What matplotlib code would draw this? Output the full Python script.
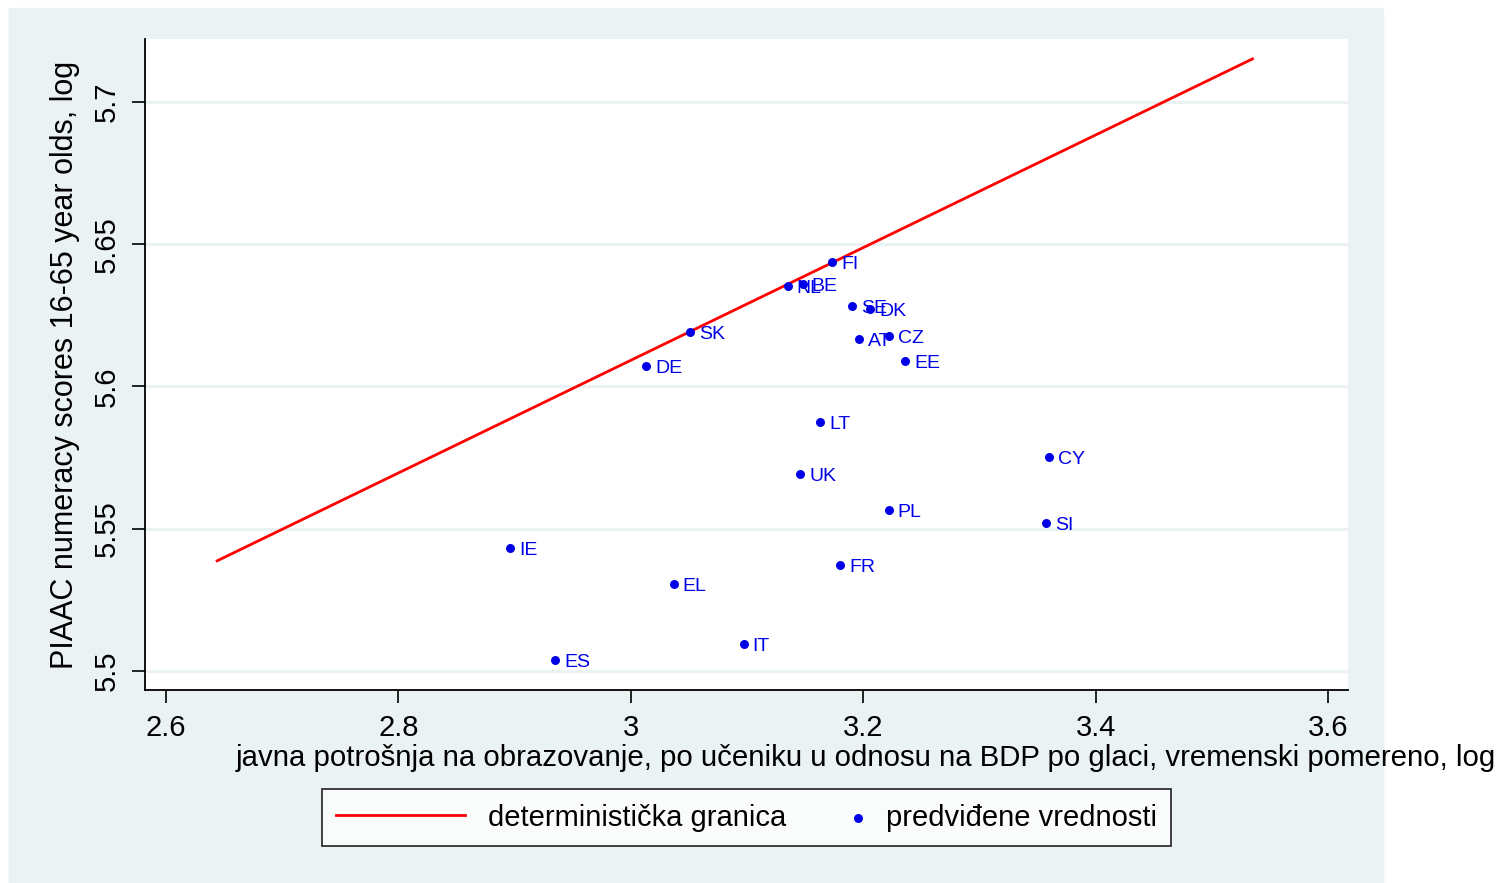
import matplotlib
matplotlib.use("Agg")
import matplotlib.pyplot as plt
from matplotlib.patches import Rectangle
from matplotlib.collections import PathCollection
from matplotlib.legend_handler import HandlerPathCollection

plt.rcParams["font.family"] = ["Liberation Sans", "DejaVu Sans"]

BG = "#EAF2F3"
BLUE = "#0000E6"
RED = "#FF0000"

# podaci (procenjeno sa slike)
countries = ["FI", "NL", "BE", "SE", "DK", "AT", "CZ", "EE", "SK", "DE",
             "LT", "UK", "CY", "PL", "SI", "IE", "FR", "EL", "IT", "ES"]
x_vals = [3.173, 3.135, 3.148, 3.190, 3.206, 3.196, 3.222, 3.236, 3.051, 3.013,
          3.163, 3.146, 3.360, 3.222, 3.357, 2.896, 3.180, 3.037, 3.097, 2.935]
y_vals = [5.6438, 5.6353, 5.6360, 5.6283, 5.6272, 5.6167, 5.6177, 5.6090, 5.6192, 5.6072,
          5.5875, 5.5692, 5.5752, 5.5566, 5.5520, 5.5432, 5.5373, 5.5306, 5.5095, 5.5039]

frontier_x = [2.644, 3.535]
frontier_y = [5.5387, 5.7151]

xticks = [2.6, 2.8, 3.0, 3.2, 3.4, 3.6]
xtick_labels = ["2.6", "2.8", "3", "3.2", "3.4", "3.6"]
yticks = [5.5, 5.55, 5.6, 5.65, 5.7]
ytick_labels = ["5.5", "5.55", "5.6", "5.65", "5.7"]

W, H = 1510, 883
fig = plt.figure(figsize=(W / 100, H / 100), dpi=100, facecolor="white")
fig.patches.append(Rectangle((9 / W, 0), (1383 - 9) / W, (H - 8) / H,
                             transform=fig.transFigure, color=BG, zorder=-10))

ax = fig.add_axes([145 / W, 1 - 690 / H, (1348 - 145) / W, (690 - 39) / H])
ax.set_facecolor("white")

for yt in yticks:
    ax.axhline(yt, color=BG, linewidth=2.2, zorder=0)

ax.plot(frontier_x, frontier_y, color=RED, linewidth=2.0, zorder=2,
        label="deterministička granica")
ax.scatter(x_vals, y_vals, s=42, color=BLUE, zorder=3, linewidths=0,
           label="predviđene vrednosti")
for c, x, y in zip(countries, x_vals, y_vals):
    ax.annotate(c, (x, y), xytext=(6.5, -2), textcoords="offset points",
                va="center", ha="left", color=BLUE, fontsize=14, zorder=4)

ax.set_xlim(2.5819, 3.6172)
ax.set_ylim(5.4933, 5.7221)
ax.set_xticks(xticks)
ax.set_xticklabels(xtick_labels)
ax.set_yticks(yticks)
ax.set_yticklabels(ytick_labels, rotation=90, va="center")
ax.tick_params(axis="both", direction="out", length=9.5, width=1.2,
               labelsize=21, color="black", pad=8)

for s in ["top", "right"]:
    ax.spines[s].set_visible(False)
for s in ["left", "bottom"]:
    ax.spines[s].set_linewidth(1.3)

ax.set_ylabel("PIAAC numeracy scores 16-65 year olds, log", fontsize=22, labelpad=9)
fig.text(866 / W, 1 - 758 / H,
         "javna potrošnja na obrazovanje, po učeniku u odnosu na BDP po glaci, vremenski pomereno, log",
         ha="center", va="center", fontsize=21.2)

leg = fig.legend(loc="center", bbox_to_anchor=(746.5 / W, 1 - 817.5 / H), ncol=2,
                 fontsize=21, frameon=True, fancybox=False, edgecolor="black",
                 handlelength=4.4, handletextpad=0.8, columnspacing=-1.8,
                 borderpad=0.5, scatterpoints=1,
                 handler_map={PathCollection: HandlerPathCollection(xpad=4.1)})
leg.get_frame().set_linewidth(1.3)
leg.get_frame().set_facecolor("white")

fig.savefig("out.png", dpi=100)
